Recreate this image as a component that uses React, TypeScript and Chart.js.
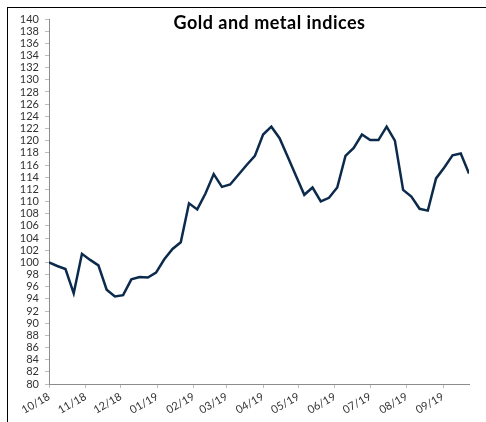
import React, { useEffect, useRef } from "react";
import { Chart, registerables } from "chart.js";

Chart.register(...registerables);

const TITLE = "Gold and metal indices";

const DATES = [
  "2018-10-01", "2018-10-08", "2018-10-15", "2018-10-22", "2018-10-29",
  "2018-11-05", "2018-11-12", "2018-11-19", "2018-11-26",
  "2018-12-03", "2018-12-10", "2018-12-17", "2018-12-24", "2018-12-31",
  "2019-01-07", "2019-01-14", "2019-01-21", "2019-01-28",
  "2019-02-04", "2019-02-11", "2019-02-18", "2019-02-25",
  "2019-03-04", "2019-03-11", "2019-03-18", "2019-03-25",
  "2019-04-01", "2019-04-08", "2019-04-15", "2019-04-22", "2019-04-29",
  "2019-05-06", "2019-05-13", "2019-05-20", "2019-05-27",
  "2019-06-03", "2019-06-10", "2019-06-17", "2019-06-24",
  "2019-07-01", "2019-07-08", "2019-07-15", "2019-07-22", "2019-07-29",
  "2019-08-05", "2019-08-12", "2019-08-19", "2019-08-26",
  "2019-09-02", "2019-09-09", "2019-09-16", "2019-09-23",
];

const VALUES = [
  100.0, 99.4, 98.9, 94.9, 101.4,
  100.4, 99.5, 95.5, 94.4,
  94.6, 97.2, 97.6, 97.5, 98.3,
  100.5, 102.2, 103.3, 109.7,
  108.7, 111.3, 114.5, 112.4,
  112.8, 114.4, 116.0, 117.5,
  121.0, 122.3, 120.4, 117.3, 114.2,
  111.1, 112.3, 110.0, 110.6,
  112.3, 117.5, 118.8, 121.0,
  120.1, 120.1, 122.3, 120.0, 111.9,
  110.8, 108.8, 108.5, 113.8,
  115.6, 117.6, 117.9, 114.6,
];

const MONTH_STARTS = [
  "2018-10-01", "2018-11-01", "2018-12-01", "2019-01-01", "2019-02-01", "2019-03-01",
  "2019-04-01", "2019-05-01", "2019-06-01", "2019-07-01", "2019-08-01", "2019-09-01",
];
const MONTH_LABELS = [
  "10/18", "11/18", "12/18", "01/19", "02/19", "03/19",
  "04/19", "05/19", "06/19", "07/19", "08/19", "09/19",
];

const Y_MIN = 80;
const Y_MAX = 140;
const Y_STEP = 2;

const DAY = 86400000;
const dayIndex = (s: string) => (Date.parse(s) - Date.parse(DATES[0])) / DAY;

const LINE_COLOR = "#0c2a4c";
const AXIS_COLOR = "#8c8c8c";
const TICK_FONT = { family: "Lato, 'DejaVu Sans', sans-serif", size: 11 };

const titlePlugin = {
  id: "customTitle",
  afterDraw(chart: any) {
    const { ctx, chartArea } = chart;
    ctx.save();
    ctx.font = "bold 18px Lato, 'DejaVu Sans', sans-serif";
    try {
      (ctx as any).letterSpacing = "0.5px";
    } catch (e) {}
    ctx.fillStyle = "#000";
    ctx.textAlign = "center";
    ctx.textBaseline = "middle";
    const cx = chartArea.left + chartArea.width * 0.525;
    ctx.fillText(TITLE, cx, chartArea.top + 4);
    ctx.restore();
  },
};

export default function App() {
  const ref = useRef<HTMLCanvasElement | null>(null);

  useEffect(() => {
    if (!ref.current) return;
    const monthDays = MONTH_STARTS.map(dayIndex);
    const chart = new Chart(ref.current, {
      type: "line",
      data: {
        datasets: [
          {
            data: DATES.map((d, i) => ({ x: dayIndex(d), y: VALUES[i] })),
            borderColor: LINE_COLOR,
            borderWidth: 2.5,
            pointRadius: 0,
            tension: 0,
            fill: false,
          },
        ],
      },
      options: {
        responsive: false,
        animation: false,
        layout: { padding: { top: 19, right: 17, left: 0, bottom: 0 } },
        plugins: {
          legend: { display: false },
          tooltip: { enabled: false },
          title: { display: false },
        },
        scales: {
          x: {
            type: "linear",
            min: 0,
            max: dayIndex(DATES[DATES.length - 1]),
            afterBuildTicks: (scale: any) => {
              scale.ticks = monthDays.map((v) => ({ value: v }));
            },
            afterFit: (scale: any) => {
              scale.height = 38;
            },
            ticks: {
              autoSkip: false,
              maxRotation: 30,
              minRotation: 30,
              padding: 2,
              color: "#333",
              font: TICK_FONT,
              callback: (v: any) => {
                const i = monthDays.indexOf(Number(v));
                return i >= 0 ? MONTH_LABELS[i] : "";
              },
            },
            grid: { drawOnChartArea: false, tickLength: 4, color: "#bdbdbd" },
            border: { color: AXIS_COLOR, width: 1 },
          },
          y: {
            min: Y_MIN,
            max: Y_MAX,
            afterFit: (scale: any) => {
              scale.width = 49;
            },
            ticks: {
              stepSize: Y_STEP,
              autoSkip: false,
              padding: 6,
              color: "#333",
              font: TICK_FONT,
            },
            grid: { drawOnChartArea: false, tickLength: 4, color: "#bdbdbd" },
            border: { color: AXIS_COLOR, width: 1 },
          },
        },
      },
      plugins: [titlePlugin],
    });
    return () => chart.destroy();
  }, []);

  return (
    <div style={{ position: "fixed", left: 0, top: 0, width: 486, height: 422, background: "#fff" }}>
      <div
        style={{
          position: "absolute",
          left: 7,
          top: 7,
          width: 479,
          height: 415,
          borderTop: "1px solid #000",
          borderLeft: "1px solid #000",
          boxSizing: "border-box",
        }}
      />
      <canvas
        ref={ref}
        width={486}
        height={422}
        style={{ position: "absolute", left: 0, top: 0, width: 486, height: 422 }}
      />
    </div>
  );
}
